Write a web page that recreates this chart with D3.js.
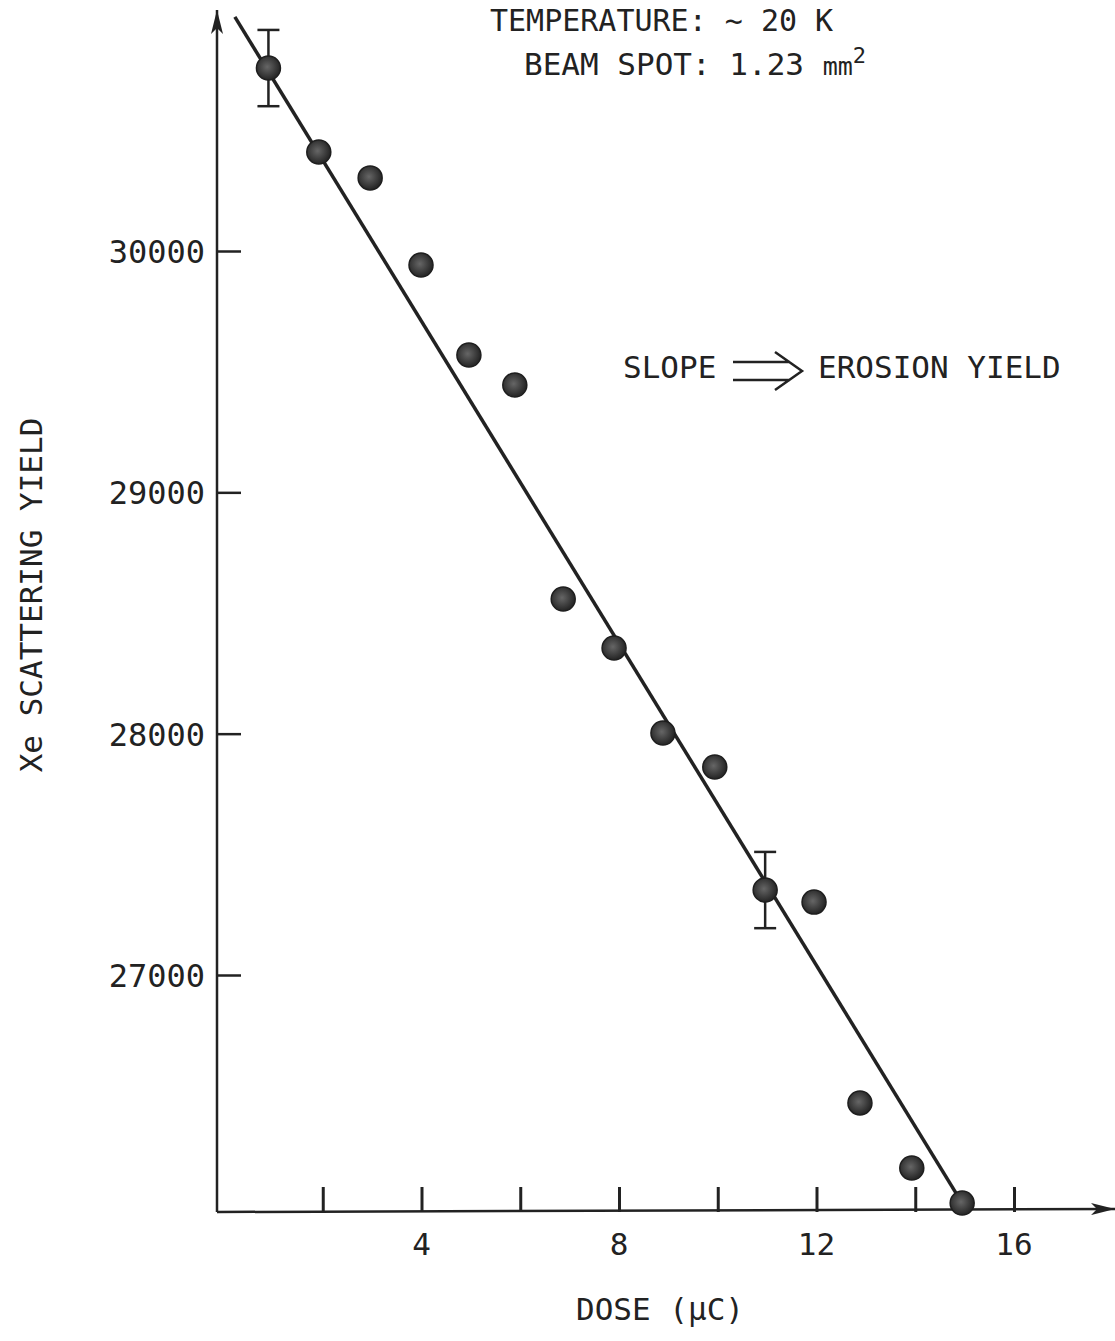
<html>
  <head>
    <script src="https://cdn.jsdelivr.net/npm/d3@7"></script>
    <style>
      body { margin: 0; background: #fff; }
      text { font-family: "DejaVu Sans Mono", monospace; fill: #222; }
    </style>
  </head>
  <body>
    <div id="container"></div>
    <script>
      // values
      const dose = [0.9, 1.92, 2.96, 3.99, 4.96, 5.89, 6.87, 7.9, 8.89, 9.94, 10.96, 11.95, 12.88, 13.93, 14.95];
      const yieldVals = [30758, 30410, 30303, 29942, 29569, 29445, 28558, 28355, 28003, 27862, 27352, 27302, 26470, 26200, 26055];
      const errPoint = [0, 10];
      const errHalf = [158, 158];
      const fitDose = [0.22, 14.95];
      const fitYield = [30970, 26055];
      const xTickVals = [2, 4, 6, 8, 10, 12, 14, 16];
      const xTickLabels = ["", "4", "", "8", "", "12", "", "16"];
      const yTickVals = [27000, 28000, 29000, 30000];

      const W = 1115, H = 1341;
      const axisX = 217, axisY = 1212;

      const svg = d3.select("#container").append("svg")
        .attr("width", W).attr("height", H)
        .style("background-color", "#fff");

      const x = d3.scaleLinear().domain([0, 16]).range([224, 1014]);
      const y = d3.scaleLinear().domain([27000, 30000]).range([975, 251]);

      const ink = "#222";

      // arrow heads
      const defs = svg.append("defs");
      defs.append("marker").attr("id", "arr")
        .attr("viewBox", "0 0 24 12").attr("refX", 24).attr("refY", 6)
        .attr("markerWidth", 24).attr("markerHeight", 12)
        .attr("markerUnits", "userSpaceOnUse").attr("orient", "auto")
        .append("path").attr("d", "M0,0 L24,6 L0,12 L6,6 Z").attr("fill", ink);

      // axis lines
      svg.append("line").attr("x1", axisX).attr("y1", axisY).attr("x2", axisX).attr("y2", 10)
        .attr("stroke", ink).attr("stroke-width", 2.5).attr("marker-end", "url(#arr)");
      svg.append("line").attr("x1", axisX).attr("y1", axisY).attr("x2", 1115).attr("y2", axisY - 3)
        .attr("stroke", ink).attr("stroke-width", 2.5).attr("marker-end", "url(#arr)");

      // x ticks (pointing up)
      const xAxis = d3.axisTop(x).tickValues(xTickVals).tickSize(25).tickFormat("");
      const gx = svg.append("g").attr("transform", `translate(0,${axisY})`).call(xAxis);
      gx.select(".domain").remove();
      gx.selectAll(".tick line").attr("stroke", ink).attr("stroke-width", 3);
      svg.selectAll(".xlab").data(xTickVals).enter().append("text")
        .attr("x", d => x(d)).attr("y", 1255)
        .attr("text-anchor", "middle").attr("font-size", 31)
        .text((d, i) => xTickLabels[i]);

      // y ticks (pointing right)
      const yAxis = d3.axisRight(y).tickValues(yTickVals).tickSize(24).tickFormat("");
      const gy = svg.append("g").attr("transform", `translate(${axisX},0)`).call(yAxis);
      gy.select(".domain").remove();
      gy.selectAll(".tick line").attr("stroke", ink).attr("stroke-width", 2.5);
      svg.selectAll(".ylab").data(yTickVals).enter().append("text")
        .attr("x", 205).attr("y", d => y(d) + 12)
        .attr("text-anchor", "end").attr("font-size", 32)
        .text(d => d);

      // fitted line
      svg.append("path")
        .datum(fitDose.map((d, i) => [d, fitYield[i]]))
        .attr("d", d3.line().x(d => x(d[0])).y(d => y(d[1])))
        .attr("stroke", ink).attr("stroke-width", 3.5).attr("fill", "none");

      // error bars
      errPoint.forEach((p, k) => {
        const cx = x(dose[p]);
        const y1 = y(yieldVals[p] + errHalf[k]), y2 = y(yieldVals[p] - errHalf[k]);
        const g = svg.append("g").attr("stroke", ink).attr("stroke-width", 2.5);
        g.append("line").attr("x1", cx).attr("x2", cx).attr("y1", y1).attr("y2", y2);
        g.append("line").attr("x1", cx - 11).attr("x2", cx + 11).attr("y1", y1).attr("y2", y1);
        g.append("line").attr("x1", cx - 11).attr("x2", cx + 11).attr("y1", y2).attr("y2", y2);
      });

      // points
      const grad = defs.append("radialGradient").attr("id", "ball").attr("cx", "45%").attr("cy", "45%");
      grad.append("stop").attr("offset", "0%").attr("stop-color", "#666");
      grad.append("stop").attr("offset", "100%").attr("stop-color", "#2a2a2a");
      svg.selectAll(".pt").data(dose).enter().append("circle")
        .attr("cx", d => x(d)).attr("cy", (d, i) => y(yieldVals[i]))
        .attr("r", 12).attr("fill", "url(#ball)").attr("stroke", "#1e1e1e").attr("stroke-width", 1.5);

      // annotations
      svg.append("text").attr("x", 490).attr("y", 31).attr("font-size", 30)
        .text("TEMPERATURE: ~ 20 K");
      const beam = svg.append("text").attr("x", 524).attr("y", 75).attr("font-size", 31);
      beam.append("tspan").text("BEAM SPOT: 1.23 ");
      beam.append("tspan").attr("font-size", 25).text("mm");
      beam.append("tspan").attr("font-size", 22).attr("dy", -12).text("2");

      svg.append("text").attr("x", 623).attr("y", 378).attr("font-size", 31).text("SLOPE");
      svg.append("path")
        .attr("d", "M733,362 L790,362 M733,380 L790,380 M775,352 L802,371 L775,390")
        .attr("stroke", ink).attr("stroke-width", 2.5).attr("fill", "none");
      svg.append("text").attr("x", 818).attr("y", 378).attr("font-size", 31).text("EROSION YIELD");

      // axis titles
      svg.append("text").attr("transform", "translate(42,595) rotate(-90)")
        .attr("text-anchor", "middle").attr("font-size", 31)
        .text("Xe SCATTERING YIELD");
      svg.append("text").attr("x", 660).attr("y", 1320)
        .attr("text-anchor", "middle").attr("font-size", 31)
        .text("DOSE (\u03bcC)");
    </script>
  </body>
</html>
